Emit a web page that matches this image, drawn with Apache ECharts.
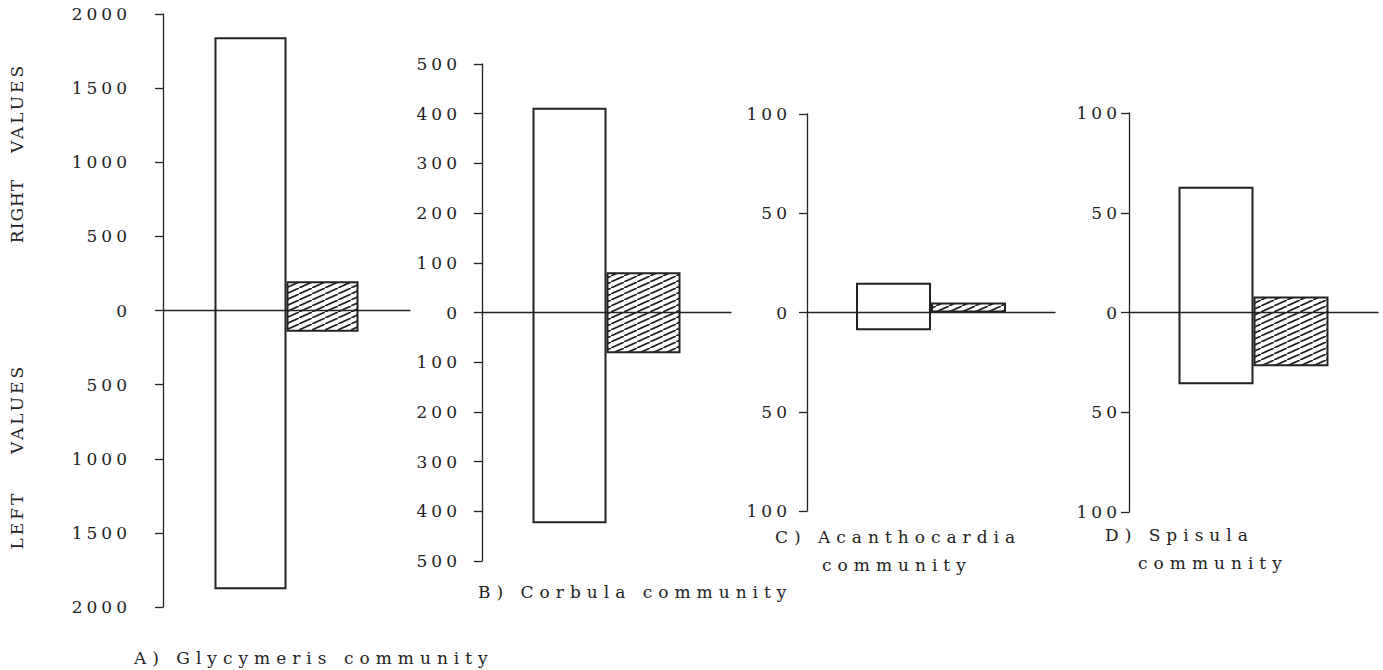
<!DOCTYPE html>
<html>
<head>
<meta charset="utf-8">
<title>Right and left valves per community</title>
<script src="https://cdn.jsdelivr.net/npm/echarts@6.0.0/dist/echarts.min.js"></script>
<style>
  html, body { margin: 0; padding: 0; background: #fff; }
  #chart { width: 1383px; height: 670px; }
</style>
</head>
<body>
<div id="chart"></div>
<script>
// panels and their captions
const panels = ['A', 'B', 'C', 'D'];
const captions = ['A) Glycymeris community', 'B) Corbula community', 'C) Acanthocardia', 'D) Spisula'];
const captionsLine2 = ['', '', 'community', 'community'];

// axis range (same up and down) and tick step per panel
const axisMax = [2000, 500, 100, 100];
const axisStep = [500, 100, 50, 50];

// number of valves: open bar and hatched bar, right valves up / left valves down
const openRight = [1843, 412, 15, 63];
const openLeft = [1880, 424, 9, 36];
const hatchRight = [197, 81, 5, 8];
const hatchLeft = [144, 82, 0, 27];

// layout
const ink = '#222';
const fontFamily = 'DejaVu Serif';
const grids = [
  { left: 163, top: 14, width: 247, height: 593 },
  { left: 482, top: 64, width: 249, height: 497 },
  { left: 807, top: 114, width: 248, height: 397 },
  { left: 1129, top: 113, width: 249, height: 399 },
];
const barWidths = [72, 74, 75, 75];
const labelMargins = [32, 21, 16, 8];
const labelPadding = [[0, 0, 0, 0], [0, 0, 12, 0], [0, 0, 0, 0], [0, 0, 0, 0]];
const captionPos = [[134, 658], [478, 592], [775, 537], [1105, 535]];
const captionLine2Pos = [null, null, [822, 565], [1138, 563]];

// diagonal hatch used for the second bar
function hatchPattern() {
  const w = 13;
  const h = 6;
  const c = document.createElement('canvas');
  c.width = w;
  c.height = h;
  const ctx = c.getContext('2d');
  ctx.fillStyle = '#fff';
  ctx.fillRect(0, 0, w, h);
  ctx.strokeStyle = ink;
  ctx.lineWidth = 1.7;
  for (const k of [-1, 0, 1]) {
    ctx.beginPath();
    ctx.moveTo(k * w, h - k * h);
    ctx.lineTo(w + k * w, -k * h);
    ctx.stroke();
  }
  return c;
}
const hatch = { image: hatchPattern(), repeat: 'repeat' };

const xAxes = [];
const yAxes = [];
const series = [];

panels.forEach((p, i) => {
  xAxes.push({
    gridIndex: i,
    type: 'category',
    data: [p],
    z: 5,
    axisLine: { onZero: true, lineStyle: { color: ink, width: 1.3 } },
    axisTick: { show: false },
    axisLabel: { show: false },
  });
  yAxes.push({
    gridIndex: i,
    type: 'value',
    min: -axisMax[i],
    max: axisMax[i],
    interval: axisStep[i],
    axisLine: { show: true, lineStyle: { color: ink, width: 1.3 } },
    axisTick: { show: true, length: 8, lineStyle: { color: ink, width: 1.3 } },
    splitLine: { show: false },
    axisLabel: {
      margin: labelMargins[i],
      color: ink,
      fontFamily: fontFamily,
      fontSize: 17,
      padding: labelPadding[i],
      formatter: (v) => String(Math.abs(v)),
    },
  });

  // each bar runs from -left to +right: a hidden base then the visible span
  const common = {
    type: 'bar',
    xAxisIndex: i,
    yAxisIndex: i,
    barWidth: barWidths[i],
    barGap: '0%',
    stackStrategy: 'all',
    silent: true,
  };
  series.push({ ...common, stack: 'open' + p, data: [-openLeft[i]], itemStyle: { color: 'transparent' } });
  series.push({
    ...common,
    stack: 'open' + p,
    data: [openLeft[i] + openRight[i]],
    itemStyle: { color: '#fff', borderColor: ink, borderWidth: 2 },
  });
  series.push({ ...common, stack: 'hatch' + p, data: [-hatchLeft[i]], itemStyle: { color: 'transparent' } });
  series.push({
    ...common,
    stack: 'hatch' + p,
    data: [hatchLeft[i] + hatchRight[i]],
    itemStyle: { color: hatch, borderColor: ink, borderWidth: 2 },
  });
});

// captions and the rotated side titles
const textEl = (text, x, y, rotated) => ({
  type: 'text',
  x: x,
  y: y,
  rotation: rotated ? Math.PI / 2 : 0,
  style: {
    text: text,
    font: '17px "' + fontFamily + '"',
    fill: ink,
    textAlign: rotated ? 'center' : 'left',
    textVerticalAlign: 'middle',
  },
});
const graphics = [
  textEl('VALUES', 17, 108, true),
  textEl('RIGHT', 17, 211, true),
  textEl('VALUES', 17, 409, true),
  textEl('LEFT', 17, 520, true),
];
captions.forEach((c, i) => {
  graphics.push(textEl(c, captionPos[i][0], captionPos[i][1], false));
  if (captionsLine2[i]) {
    graphics.push(textEl(captionsLine2[i], captionLine2Pos[i][0], captionLine2Pos[i][1], false));
  }
});

const mychart = echarts.init(document.getElementById('chart'), null, { renderer: 'svg' });
mychart.setOption({
  animation: false,
  backgroundColor: '#fff',
  grid: grids,
  xAxis: xAxes,
  yAxis: yAxes,
  series: series,
  graphic: graphics,
});

// wide typewriter spacing of the original lettering
function spaceLetters() {
  mychart.getDom().querySelectorAll('text').forEach((t) => {
    const s = t.textContent.trim();
    if (/^\d+$/.test(s)) {
      t.style.letterSpacing = '4px';
    } else if (s === 'RIGHT') {
      t.style.letterSpacing = '1px';
    } else if (s === s.toUpperCase()) {
      t.style.letterSpacing = '3px';
    } else {
      t.style.letterSpacing = '6px';
    }
  });
}
mychart.on('finished', spaceLetters);
setTimeout(spaceLetters, 50);
</script>
</body>
</html>
